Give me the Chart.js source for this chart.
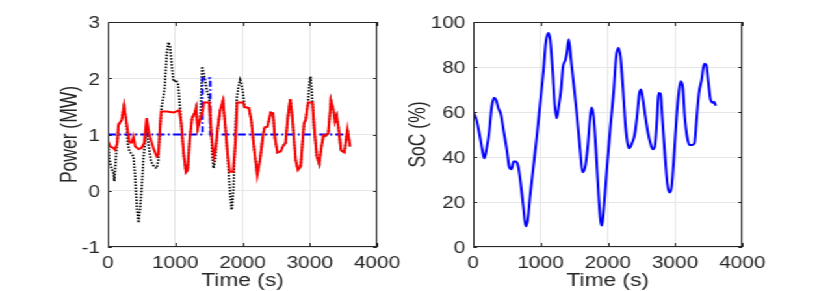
<!DOCTYPE html>
<html>
<head>
<meta charset="utf-8">
<script src="https://cdn.jsdelivr.net/npm/chart.js@4.4.1/dist/chart.umd.min.js"></script>
<style>
  html, body { margin: 0; background: #fff; overflow: hidden; }
  /* the reference picture is stretched sideways, so the whole figure is too */
  #wrap { position: absolute; left: 0; top: 0; width: 638px; height: 291px; transform: scaleX(1.3); transform-origin: 0 0; }
  #powerChart { position: absolute; left: 0; top: 0; }
  #socChart { position: absolute; left: 300px; top: 0; }
</style>
</head>
<body>
<div id="wrap">
  <canvas id="powerChart" width="320" height="291"></canvas>
  <canvas id="socChart" width="338" height="291"></canvas>
</div>
<script>
// Power (MW), red solid line
const redTime = [0,30,80,105,140,155,205,240,270,320,355,380,405,455,500,540,575,615,675,725,750,790,875,975,1060,1090,1125,1160,1185,1215,1250,1290,1310,1335,1375,1410,1425,1505,1540,1575,1600,1630,1670,1710,1745,1780,1810,1860,1895,1920,2010,2030,2095,2130,2170,2220,2260,2310,2330,2370,2420,2455,2480,2520,2570,2600,2640,2675,2710,2740,2790,2825,2865,2915,2940,2975,3040,3065,3105,3140,3175,3205,3240,3275,3315,3350,3375,3400,3425,3465,3515,3560,3600];
const redPower = [0.89,0.79,0.76,0.73,0.85,1.17,1.26,1.51,1.26,0.86,0.86,0.96,0.79,0.74,0.76,0.85,1.29,0.99,0.76,0.61,0.64,1.41,1.41,1.39,1.43,1.20,0.67,0.33,0.37,0.91,1.29,1.38,1.47,1.11,1.29,1.41,1.57,1.57,0.96,0.61,0.73,1.11,1.44,1.60,1.14,0.64,0.34,0.34,0.85,1.57,1.57,1.49,1.47,1.26,0.79,0.28,0.55,1.02,1.13,1.14,1.39,1.38,0.96,0.68,0.70,0.79,0.85,1.32,1.63,1.32,0.55,0.37,0.43,1.20,1.26,1.57,1.57,1.14,0.61,0.48,0.79,0.99,0.98,1.02,1.60,1.44,1.23,1.33,1.14,0.72,0.68,1.09,0.79];

// Power (MW), black dotted line
const blackTime = [0,20,55,80,95,120,140,155,205,240,270,300,320,355,380,405,430,455,480,505,530,560,575,600,640,690,725,750,775,800,840,875,900,925,950,975,1010,1045,1070,1090,1125,1160,1185,1215,1250,1290,1310,1335,1375,1400,1425,1470,1505,1530,1550,1570,1595,1630,1670,1710,1745,1780,1815,1840,1865,1890,1915,1940,1965,1990,2015,2030,2095,2130,2170,2220,2260,2310,2330,2370,2420,2455,2480,2520,2570,2600,2640,2675,2710,2740,2790,2825,2865,2915,2940,2975,2990,3010,3030,3045,3065,3105,3140,3175,3205,3240,3275,3315,3350,3375,3400,3425,3465,3515,3560,3600];
const blackPower = [0.96,0.58,0.38,0.34,0.17,0.61,0.90,1.17,1.26,1.51,1.26,0.80,0.70,0.65,0.61,0.25,-0.30,-0.57,-0.30,0.10,0.61,0.95,1.17,0.85,0.52,0.42,0.40,0.55,1.14,1.50,1.79,2.44,2.64,2.56,2.21,1.94,1.97,1.88,1.50,1.20,0.67,0.33,0.37,0.91,1.29,1.38,1.47,1.11,1.29,2.21,2.09,1.79,1.64,1.26,0.61,0.40,0.55,1.08,1.44,1.59,1.14,0.61,-0.04,-0.34,0.02,0.85,1.64,1.85,1.97,1.88,1.67,1.49,1.47,1.26,0.79,0.28,0.55,1.02,1.13,1.14,1.39,1.38,0.96,0.68,0.70,0.79,0.85,1.32,1.63,1.32,0.55,0.37,0.43,1.20,1.26,1.57,1.85,2.03,1.79,1.50,1.14,0.61,0.48,0.79,0.99,0.98,1.02,1.60,1.44,1.23,1.33,1.14,0.72,0.68,1.09,0.79];

// Power (MW), blue dash-dot reference
const blueTime = [0,1405,1405,1520,1520,3600];
const bluePower = [1,1,2,2,1,1];

// SoC (%)
const socTime = [0,50,100,135,165,200,235,275,310,340,375,410,450,500,535,570,600,635,670,705,745,780,810,845,895,945,995,1045,1080,1120,1145,1180,1210,1240,1270,1305,1335,1370,1395,1420,1455,1490,1540,1590,1625,1665,1700,1740,1760,1790,1825,1865,1895,1915,1940,1990,2040,2090,2125,2160,2190,2225,2265,2300,2320,2360,2400,2435,2470,2495,2525,2560,2600,2635,2670,2700,2735,2755,2785,2810,2845,2885,2920,2950,2985,3020,3060,3085,3115,3145,3180,3215,3255,3290,3320,3355,3395,3435,3465,3495,3530,3565,3580,3605];
const socValue = [60,56.4,49,43.1,39.4,43.9,50.5,62.3,66.3,65.3,61.6,59.1,52,43.1,35.7,34.6,38,38,35.7,28.4,18,9.2,12.1,22.5,35.7,49,63.8,78.6,91.1,95.1,91.9,78.6,63.8,57.2,62.3,69.7,80.1,83,86.7,92.3,83,73.4,59.4,43.1,33.2,35.7,43.9,57.9,62,57.9,43.1,22.5,11.4,9.5,16.5,35.7,53.5,69.7,84.5,88.5,84.5,71.2,53.5,45.3,43.9,46.1,49.8,57.9,68.2,70,65.3,57.9,50.5,46.1,43.4,44.6,57.9,68.5,68.2,57.9,43.1,28.4,24.2,26.9,40.2,56.4,69.7,73.7,71.2,57.9,49,45.3,45.3,46.1,56.4,68.2,74.2,81.5,80.8,73.4,65.3,64.1,64.6,62.8];

const timeTicks = [0, 1000, 2000, 3000, 4000];

const FONT = 'Liberation Sans, Arial, Helvetica, sans-serif';
const AXIS = '#262626';

function points(xs, ys) {
    return xs.map((x, i) => ({ x: x, y: ys[i] }));
}

// matlab style box with small inward ticks
const boxPlugin = {
    id: 'box',
    afterDraw(chart) {
        const { ctx, chartArea: a, scales } = chart;
        ctx.save();
        ctx.strokeStyle = AXIS;
        ctx.lineWidth = 1;
        ctx.strokeRect(a.left + 0.5, a.top + 0.5, a.right - a.left - 1, a.bottom - a.top - 1);
        ctx.beginPath();
        scales.x.ticks.forEach(t => {
            const px = Math.round(scales.x.getPixelForValue(t.value)) + 0.5;
            ctx.moveTo(px, a.bottom); ctx.lineTo(px, a.bottom - 4);
            ctx.moveTo(px, a.top); ctx.lineTo(px, a.top + 4);
        });
        scales.y.ticks.forEach(t => {
            const py = Math.round(scales.y.getPixelForValue(t.value)) + 0.5;
            ctx.moveTo(a.left, py); ctx.lineTo(a.left + 3, py);
            ctx.moveTo(a.right, py); ctx.lineTo(a.right - 3, py);
        });
        ctx.stroke();
        ctx.restore();
    }
};

function makeScales(yMin, yMax, yStep, yTitle, yWidth, titlePad) {
    return {
        x: {
            type: 'linear',
            min: 0, max: 4000,
            afterBuildTicks: s => { s.ticks = timeTicks.map(v => ({ value: v })); },
            afterFit: s => { s.height = 44; },
            grid: { color: '#e6e6e6', drawTicks: false },
            border: { display: false },
            ticks: { color: AXIS, padding: 7, maxRotation: 0, callback: v => String(v), font: { family: FONT, size: 16 } },
            title: { display: true, text: 'Time (s)', color: AXIS, padding: { top: 0, bottom: -1 }, font: { family: FONT, size: 17.5 } }
        },
        y: {
            min: yMin, max: yMax,
            afterFit: s => { s.width = yWidth; },
            grid: { color: '#e6e6e6', drawTicks: false },
            border: { display: false },
            ticks: { stepSize: yStep, color: AXIS, padding: 6, labelOffset: 2, callback: v => String(v), font: { family: FONT, size: 16 } },
            title: { display: true, text: yTitle, color: AXIS, padding: { top: titlePad, bottom: 0 }, font: { family: FONT, size: 17.5 } }
        }
    };
}

document.addEventListener('DOMContentLoaded', function () {
    new Chart(document.getElementById('powerChart'), {
        type: 'line',
        data: {
            datasets: [{
                data: points(redTime, redPower),
                borderColor: '#ff0000',
                borderWidth: 2,
            }, {
                data: points(blueTime, bluePower),
                borderColor: '#0000ff',
                borderWidth: 1.8,
                borderDash: [6, 2.5, 1.5, 2.5],
            }, {
                data: points(blackTime, blackPower),
                borderColor: '#000000',
                borderWidth: 1.8,
                borderDash: [1.5, 1.5],
            }]
        },
        options: {
            responsive: false,
            animation: false,
            elements: { point: { radius: 0 }, line: { tension: 0 } },
            layout: { padding: { left: 0, right: 30, top: 22, bottom: 0 } },
            plugins: { legend: { display: false }, tooltip: { enabled: false } },
            scales: makeScales(-1, 3, 1, 'Power (MW)', 83, 44)
        },
        plugins: [boxPlugin]
    });

    new Chart(document.getElementById('socChart'), {
        type: 'line',
        data: {
            datasets: [{
                data: points(socTime, socValue),
                borderColor: '#0000ff',
                borderWidth: 2,
                cubicInterpolationMode: 'monotone',
            }]
        },
        options: {
            responsive: false,
            animation: false,
            elements: { point: { radius: 0 } },
            layout: { padding: { left: 0, right: 67, top: 22, bottom: 0 } },
            plugins: { legend: { display: false }, tooltip: { enabled: false } },
            scales: makeScales(0, 100, 20, 'SoC (%)', 64, 12)
        },
        plugins: [boxPlugin]
    });
});
</script>
</body>
</html>
